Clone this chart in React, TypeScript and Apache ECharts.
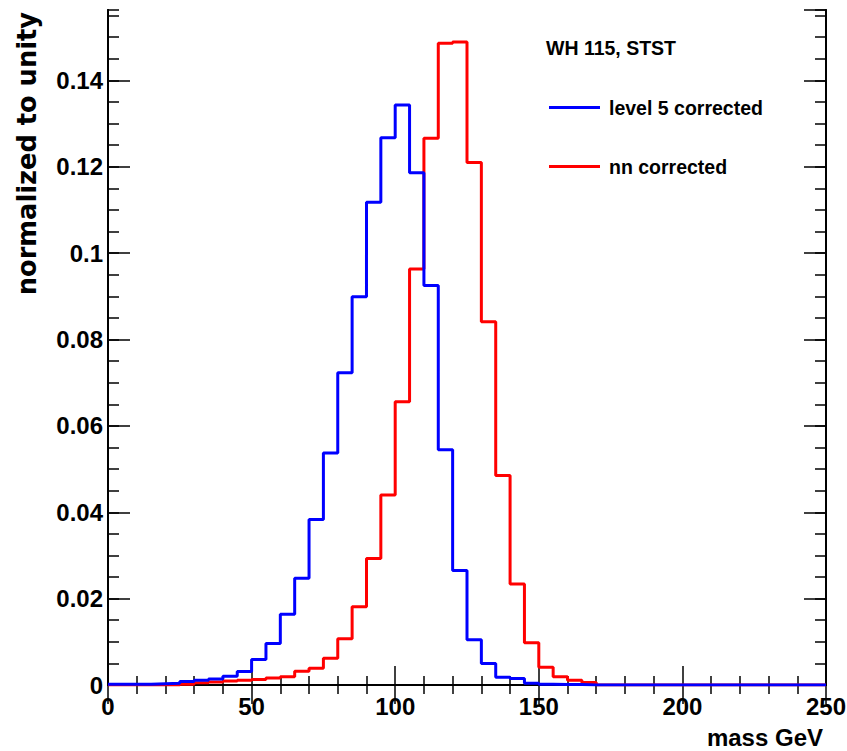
import React, { useEffect, useRef } from "react";
import * as echarts from "echarts";

// Histogram: 50 bins of width 5 GeV from 0 to 250
const binWidth = 5;
const xMin = 0;
const xMax = 250;

const level5Corrected = [
  0.0002, 0.0002, 0.0002, 0.0003, 0.0004, 0.0008, 0.0011, 0.0014, 0.002, 0.0031,
  0.0059, 0.0096, 0.0164, 0.0247, 0.0383, 0.0537, 0.0723, 0.0899, 0.1118, 0.1267,
  0.1343, 0.1186, 0.0925, 0.0545, 0.0265, 0.0105, 0.005, 0.0018, 0.0015, 0.0004,
  0.0002, 0.0001, 0.0001, 0, 0, 0, 0, 0, 0, 0,
  0, 0, 0, 0, 0, 0, 0, 0, 0, 0,
];

const nnCorrected = [
  0, 0, 0, 0, 0, 0.0002, 0.0005, 0.0007, 0.0009, 0.0011,
  0.0013, 0.0016, 0.0019, 0.0032, 0.0039, 0.0062, 0.0107, 0.0181, 0.0293, 0.044,
  0.0656, 0.0963, 0.1266, 0.1486, 0.1489, 0.121, 0.0841, 0.0485, 0.0234, 0.0098,
  0.0041, 0.0019, 0.0011, 0.0006, 0, 0, 0, 0, 0, 0,
  0, 0, 0, 0, 0, 0, 0, 0, 0, 0,
];

const seriesNames = ["level 5 corrected", "nn corrected"];
const titleText = "WH 115, STST";
const xTitle = "mass GeV";
const yTitle = "normalized to unity";
const yMax = 0.1563;

function stepData(values: number[]) {
  const pts: [number, number][] = values.map((v, i) => [xMin + i * binWidth, v]);
  pts.push([xMax, values[values.length - 1]]);
  return pts;
}

const SANS = "'Liberation Sans', Arial, sans-serif";

export default function App() {
  const ref = useRef<HTMLDivElement>(null);
  useEffect(() => {
    document.body.style.margin = "0";
    if (!ref.current) return;
    const chart = echarts.init(ref.current, undefined, { renderer: "svg" });
    const axisLine = { show: true, lineStyle: { color: "#000", width: 2 } };
    const baseX = {
      type: "value" as const,
      min: xMin,
      max: xMax,
      splitLine: { show: false },
      axisLine,
    };
    const baseY = {
      type: "value" as const,
      min: 0,
      max: yMax,
      splitLine: { show: false },
      axisLine,
    };
    chart.setOption({
      animation: false,
      backgroundColor: "#fff",
      grid: {
        left: 108,
        right: 21,
        top: 10,
        bottom: 66,
        containLabel: false,
        outerBoundsMode: "none",
      },
      title: {
        text: titleText,
        left: 546,
        top: 35,
        padding: 0,
        textStyle: { fontFamily: SANS, fontSize: 19.5, fontWeight: "bold", color: "#000", lineHeight: 26 },
      },
      legend: {
        data: seriesNames,
        orient: "vertical",
        left: 549,
        top: 93,
        padding: 0,
        itemWidth: 51,
        itemHeight: 3,
        itemGap: 30,
        icon: "rect",
        textStyle: {
          fontFamily: SANS,
          fontSize: 19.5,
          fontWeight: "bold",
          color: "#000",
          lineHeight: 29,
          padding: [0, 0, 0, 4],
        },
      },
      xAxis: [
        {
          ...baseX,
          position: "bottom",
          interval: 50,
          axisTick: { show: true, inside: true, length: 19, lineStyle: { color: "#000", width: 1.5 } },
          minorTick: { show: true, splitNumber: 5, length: 9, lineStyle: { color: "#000", width: 1.5 } },
          axisLabel: {
            show: true,
            margin: 9,
            fontFamily: SANS,
            fontSize: 24,
            fontWeight: "bold",
            color: "#000",
          },
          name: xTitle,
          nameLocation: "end",
          nameGap: -3,
          nameTextStyle: {
            fontFamily: SANS,
            fontSize: 24,
            fontWeight: "bold",
            color: "#000",
            align: "right",
            verticalAlign: "top",
            padding: [40, 0, 0, 0],
          },
        },
        {
          ...baseX,
          position: "top",
          interval: 50,
          axisTick: { show: true, inside: true, length: 19, lineStyle: { color: "#000", width: 1.5 } },
          minorTick: { show: true, splitNumber: 5, length: 9, lineStyle: { color: "#000", width: 1.5 } },
          axisLabel: { show: false },
        },
      ],
      yAxis: [
        {
          ...baseY,
          position: "left",
          interval: 0.02,
          axisTick: { show: true, inside: true, length: 22, lineStyle: { color: "#000", width: 1.5 } },
          axisLabel: {
            show: true,
            margin: 5,
            fontFamily: SANS,
            fontSize: 24,
            fontWeight: "bold",
            color: "#000",
            showMaxLabel: false,
            formatter: (v: number) => {
              const r = Math.round(v * 100) / 100;
              if (Math.abs(r - v) > 1e-9) return "";
              return String(r);
            },
          },
        },
        {
          ...baseY,
          position: "left",
          interval: 0.005,
          axisTick: { show: true, inside: true, length: 11, lineStyle: { color: "#000", width: 1.5 } },
          axisLabel: { show: false },
        },
        {
          ...baseY,
          position: "right",
          interval: 0.02,
          axisTick: { show: true, inside: true, length: 22, lineStyle: { color: "#000", width: 1.5 } },
          axisLabel: { show: false },
        },
        {
          ...baseY,
          position: "right",
          interval: 0.005,
          axisTick: { show: true, inside: true, length: 11, lineStyle: { color: "#000", width: 1.5 } },
          axisLabel: { show: false },
        },
      ],
      graphic: [
        {
          type: "text",
          x: 27,
          y: 12,
          rotation: Math.PI / 2,
          style: {
            text: yTitle,
            fontFamily: "'DejaVu Sans', sans-serif",
            fontSize: 25.7,
            fontWeight: "bold",
            fill: "#000",
            align: "right",
            verticalAlign: "middle",
          },
        },
      ],
      series: [
        {
          name: seriesNames[1],
          type: "line",
          step: "end",
          data: stepData(nnCorrected),
          showSymbol: false,
          symbol: "none",
          color: "#ff0000",
          lineStyle: { color: "#ff0000", width: 3 },
          itemStyle: { color: "#ff0000" },
          z: 2,
        },
        {
          name: seriesNames[0],
          type: "line",
          step: "end",
          data: stepData(level5Corrected),
          showSymbol: false,
          symbol: "none",
          color: "#0000ff",
          lineStyle: { color: "#0000ff", width: 3 },
          itemStyle: { color: "#0000ff" },
          z: 3,
        },
      ],
    });
    return () => chart.dispose();
  }, []);
  return <div ref={ref} style={{ width: 847, height: 751 }} />;
}
